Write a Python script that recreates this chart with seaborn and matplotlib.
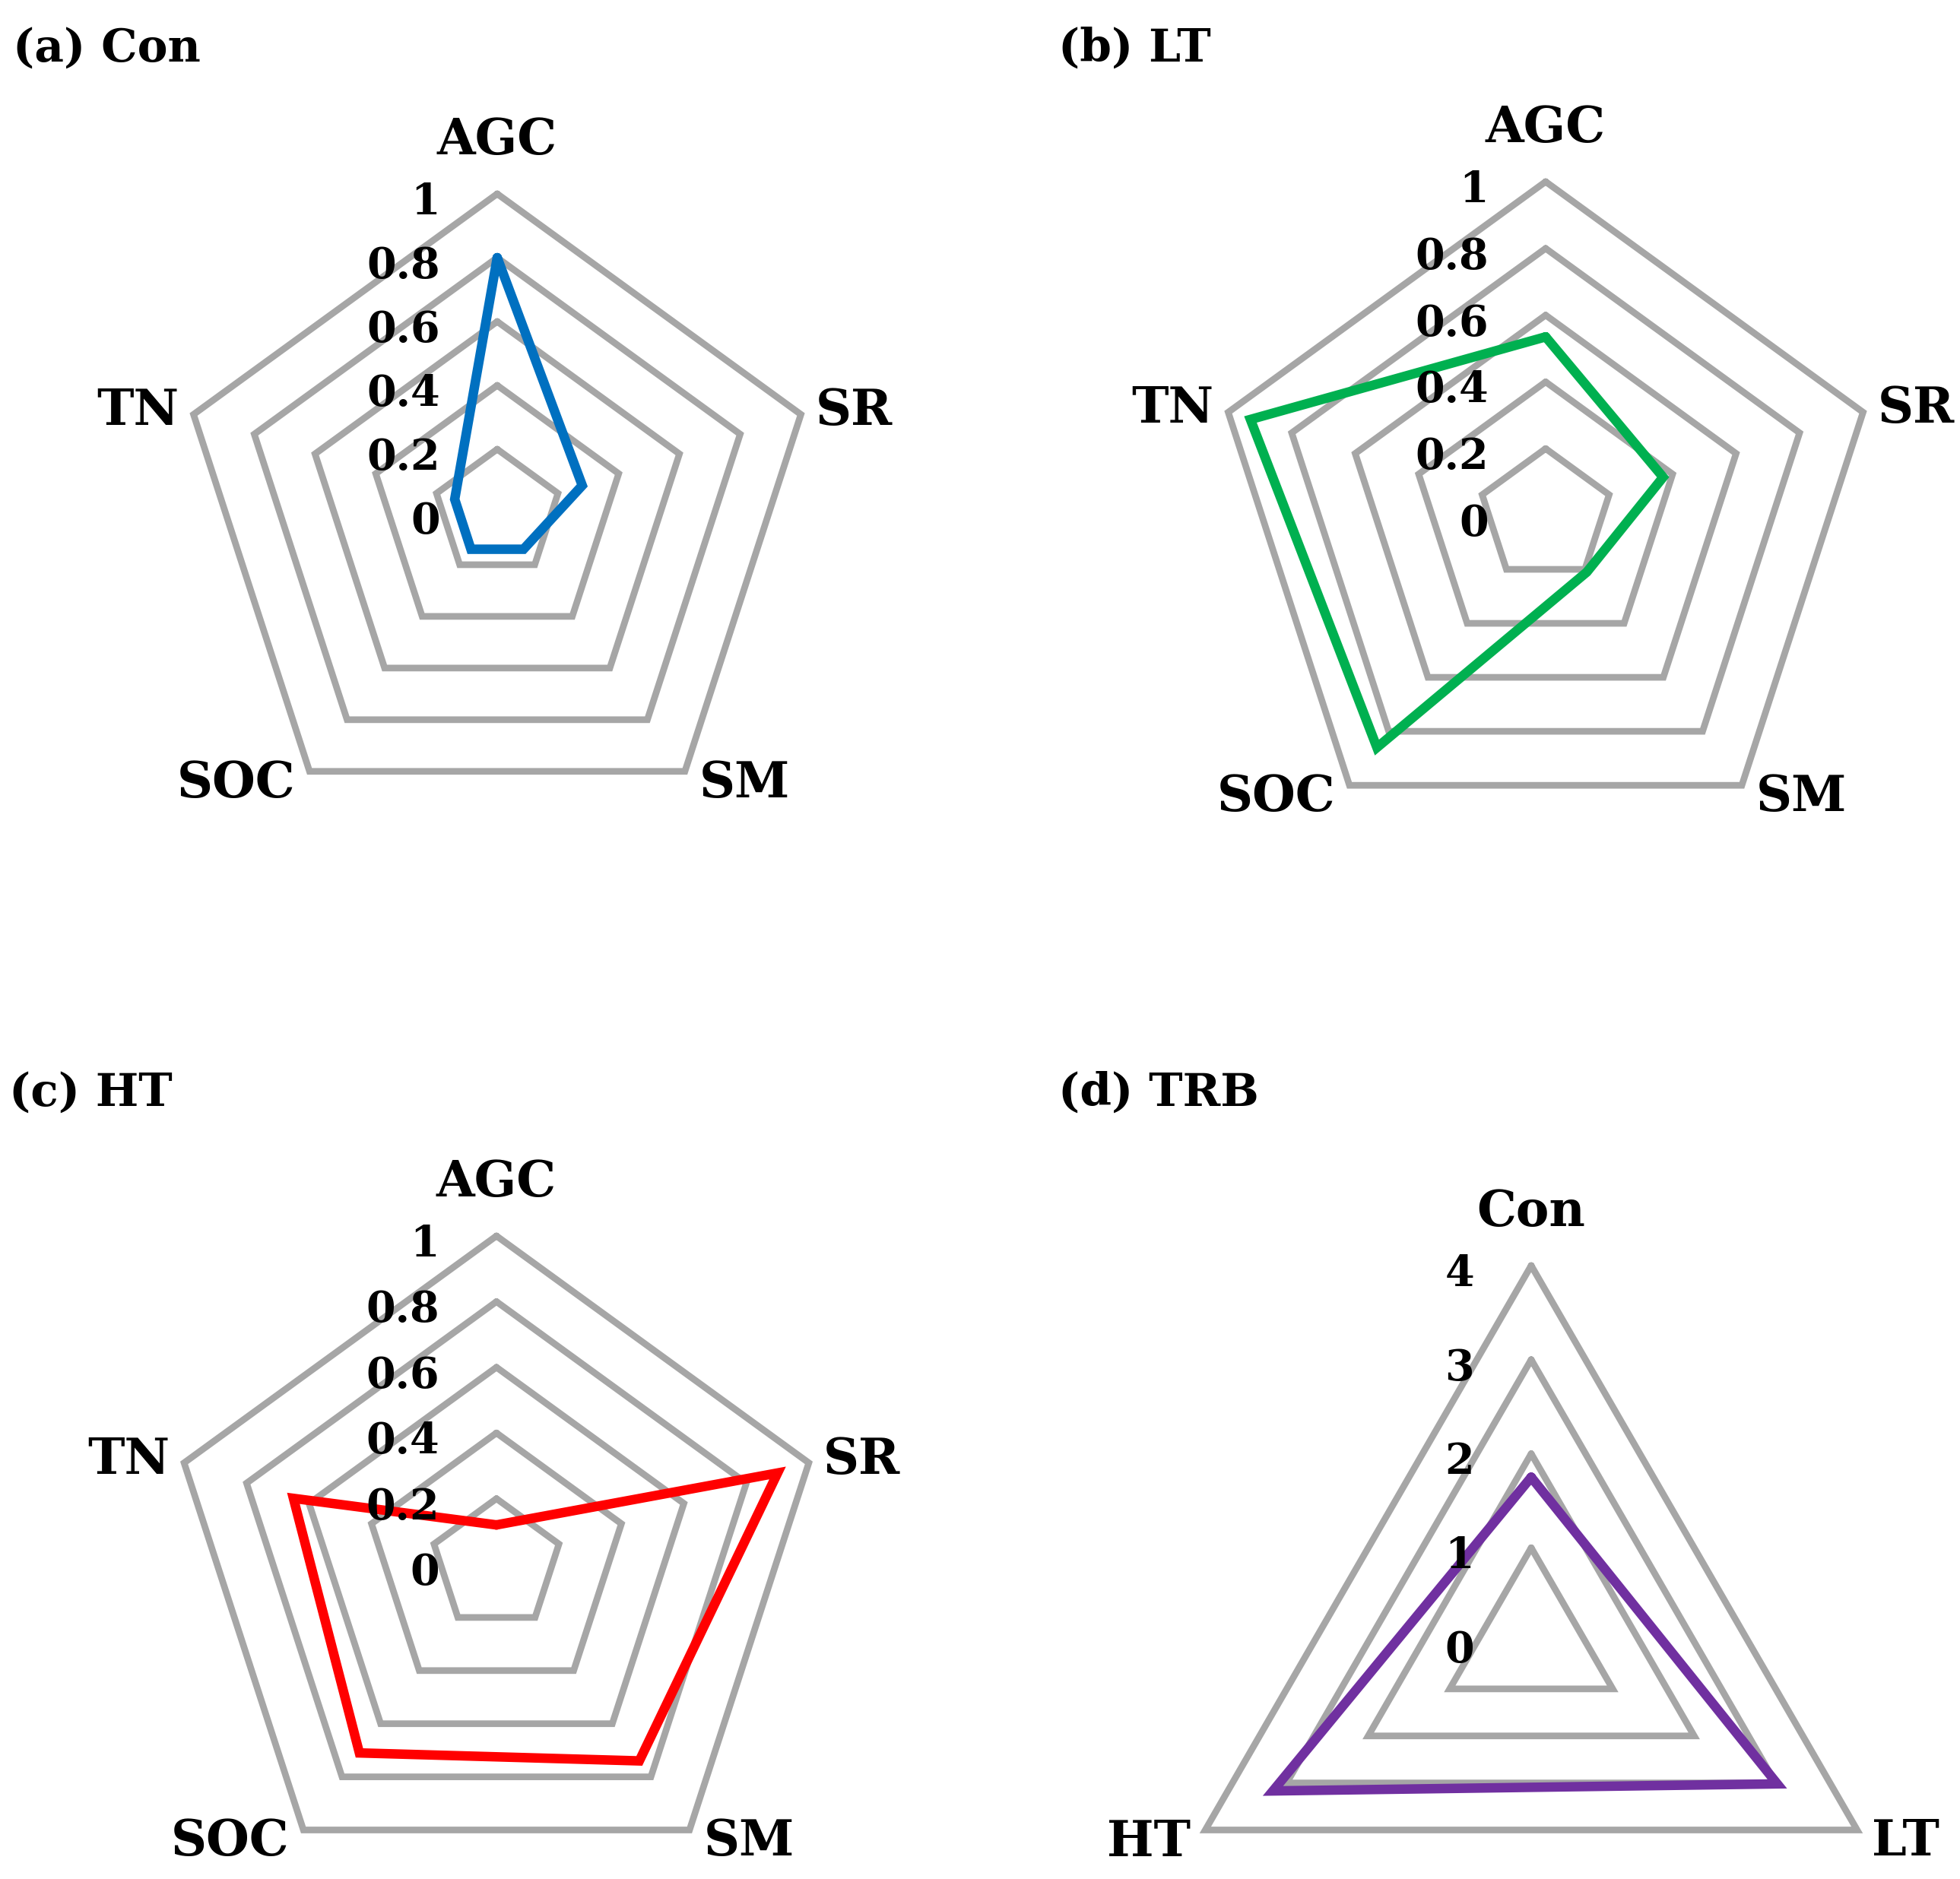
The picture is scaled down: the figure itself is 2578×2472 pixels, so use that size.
import numpy as np
import pandas as pd
import seaborn as sns
import matplotlib.pyplot as plt

# 지표 / 처리구 값
indicators = ["AGC", "SR", "SM", "SOC", "TN"]
con_values = [0.80, 0.28, 0.14, 0.14, 0.14]
lt_values = [0.535, 0.37, 0.21, 0.86, 0.93]
ht_values = [0.12, 0.90, 0.74, 0.71, 0.65]

treatments = ["Con", "LT", "HT"]
trb_values = [1.75, 3.02, 3.17]

ticks_unit = [0, 0.2, 0.4, 0.6, 0.8, 1]
tick_labels_unit = ["0", "0.2", "0.4", "0.6", "0.8", "1"]
ticks_trb = [0, 1, 2, 3, 4]
tick_labels_trb = ["0", "1", "2", "3", "4"]

W, H = 2578, 2472
GRAY = "#A6A6A6"


def set_config():
    sns.set_theme(style="white")
    plt.rcParams["font.family"] = ["DejaVu Serif"]
    plt.rcParams["font.weight"] = "bold"
    plt.rcParams["text.color"] = "black"


def make_axes(fig, cx, cy, r):
    # 픽셀 기준 중심/반지름으로 polar 축 생성
    rect = [(cx - r) / W, 1 - (cy + r) / H, 2 * r / W, 2 * r / H]
    ax = fig.add_axes(rect, projection="polar")
    ax.set_theta_zero_location("N")
    ax.set_theta_direction(-1)
    ax.grid(False)
    ax.spines["polar"].set_visible(False)
    ax.set_xticks([])
    ax.set_yticks([])
    ax.patch.set_alpha(0)
    return ax


def draw_radar(ax, labels, values, ticks, tick_labels, color):
    n = len(labels)
    angles = np.linspace(0, 2 * np.pi, n, endpoint=False)
    closed = np.append(angles, angles[0])
    ax.set_ylim(0, ticks[-1])

    # 다각형 격자
    for t in ticks[1:]:
        ax.plot(closed, [t] * (n + 1), color=GRAY, lw=6.3,
                solid_joinstyle="miter", clip_on=False, zorder=1)

    # 데이터 선
    df = pd.DataFrame({"angle": closed, "value": list(values) + [values[0]]})
    sns.lineplot(data=df, x="angle", y="value", sort=False, estimator=None,
                 ax=ax, color=color, lw=9, solid_joinstyle="miter",
                 clip_on=False, zorder=3)
    ax.set_xlabel("")
    ax.set_ylabel("")

    # 눈금 라벨
    for t, lab in zip(ticks, tick_labels):
        ax.annotate(lab, xy=(0, t), xytext=(-75, -27), textcoords="offset pixels",
                    ha="right", va="baseline", fontsize=40, zorder=4,
                    annotation_clip=False)

    # 항목 라벨
    top = ticks[-1]
    for a, lab in zip(angles, labels):
        if np.isclose(a, 0):
            ax.annotate(lab, xy=(a, top), xytext=(0, 52), textcoords="offset pixels",
                        ha="center", va="baseline", fontsize=47, annotation_clip=False)
            continue
        side = 1 if np.sin(a) > 0 else -1
        dy = -14 if np.cos(a) > 0 else -34
        ax.annotate(lab, xy=(a, top), xytext=(side * 19, dy), textcoords="offset pixels",
                    ha="left" if side > 0 else "right", va="baseline", fontsize=47,
                    annotation_clip=False)


def main():
    set_config()
    fig = plt.figure(figsize=(W / 100, H / 100), dpi=100)

    ax_a = make_axes(fig, 654, 675, 420)
    draw_radar(ax_a, indicators, con_values, ticks_unit, tick_labels_unit, "#0070C0")

    ax_b = make_axes(fig, 2033, 678, 439)
    draw_radar(ax_b, indicators, lt_values, ticks_unit, tick_labels_unit, "#00B050")

    ax_c = make_axes(fig, 653, 2058, 432)
    draw_radar(ax_c, indicators, ht_values, ticks_unit, tick_labels_unit, "#FF0000")

    ax_d = make_axes(fig, 2014, 2160, 495)
    draw_radar(ax_d, treatments, trb_values, ticks_trb, tick_labels_trb, "#7030A0")

    # 패널 제목
    titles = [("(a) Con", 17, 81), ("(b) LT", 1392, 81), ("(c) HT", 12, 1455), ("(d) TRB", 1392, 1455)]
    for text, x, y in titles:
        fig.text(x / W, 1 - y / H, text, ha="left", va="baseline", fontsize=43)

    fig.savefig("out.png", dpi=100, facecolor="white")


if __name__ == "__main__":
    main()
